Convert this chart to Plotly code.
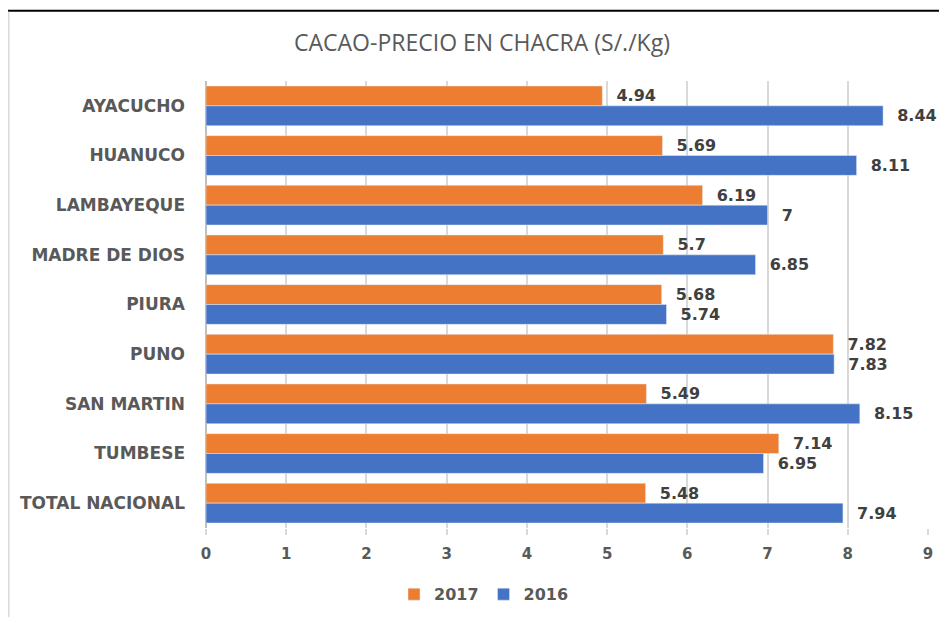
import plotly.graph_objects as go

categories = ["AYACUCHO", "HUANUCO", "LAMBAYEQUE", "MADRE DE DIOS", "PIURA",
              "PUNO", "SAN MARTIN", "TUMBESE", "TOTAL NACIONAL"]
values_2017 = [4.94, 5.69, 6.19, 5.7, 5.68, 7.82, 5.49, 7.14, 5.48]
values_2016 = [8.44, 8.11, 7, 6.85, 5.74, 7.83, 8.15, 6.95, 7.94]
x_ticks = [0, 1, 2, 3, 4, 5, 6, 7, 8, 9]

# page body has an 8px margin; work in reference pixel coords shifted by 8
OFF = 8
W, H = 947 - OFF, 623 - OFF
L, R, T, B = 206 - OFF, 19, 81 - OFF, 90
pw, ph = W - L - R, H - T - B

def px_x(p):
    return (p - OFF - L) / pw

def px_y(p):
    return (H - B - (p - OFF)) / ph

label_font = dict(family="DejaVu Sans", size=16, color="#404040", weight="bold")

fig = go.Figure()
fig.add_trace(go.Bar(
    y=categories, x=values_2017, name="2017", orientation="h",
    marker=dict(color="#ED7D31"),
    text=[f"  {v:g}" for v in values_2017], textposition="outside",
    textfont=label_font, cliponaxis=False,
))
fig.add_trace(go.Bar(
    y=categories, x=values_2016, name="2016", orientation="h",
    marker=dict(color="#4472C4"),
    text=[f"  {v:g}" for v in values_2016], textposition="outside",
    textfont=label_font, cliponaxis=False,
))

fig.update_layout(
    width=W, height=H,
    margin=dict(l=L, r=R, t=T, b=B),
    paper_bgcolor="white", plot_bgcolor="white",
    barmode="group", bargap=0.2, bargroupgap=0,
    title=dict(text="CACAO-PRECIO EN CHACRA (S/./Kg)", x=(482 - OFF) / W, xanchor="center",
               y=1 - (43 - OFF) / H, yanchor="middle",
               font=dict(family="Open Sans", size=23, color="#595959")),
    showlegend=True,
    legend=dict(orientation="h", x=px_x(484), xanchor="center", y=px_y(600), yanchor="middle",
                font=dict(family="DejaVu Sans", size=16, color="#595959", weight="bold"),
                traceorder="normal", itemwidth=30),
    xaxis=dict(range=[0, 9], tickvals=x_ticks, showgrid=True, gridcolor="#D9D9D9", gridwidth=1.5,
               zeroline=True, zerolinecolor="#BFBFBF", zerolinewidth=1.5,
               ticks="outside", ticklen=6, tickcolor="#D9D9D9", tickwidth=1.5,
               ticklabelstandoff=6,
               tickfont=dict(family="DejaVu Sans", size=15, color="#595959", weight="bold"),
               showline=False),
    yaxis=dict(autorange="reversed", showgrid=False, ticks="", ticklabelstandoff=20,
               tickfont=dict(family="DejaVu Sans", size=17, color="#595959", weight="bold")),
    shapes=[
        dict(type="line", xref="paper", yref="paper", x0=px_x(OFF), x1=px_x(947), y0=px_y(10), y1=px_y(10),
             line=dict(color="black", width=2)),
        dict(type="line", xref="paper", yref="paper", x0=px_x(8.8), x1=px_x(8.8), y0=px_y(11), y1=px_y(623),
             line=dict(color="#D9D9D9", width=1.5)),
    ],
)

fig.write_html("out.html")
